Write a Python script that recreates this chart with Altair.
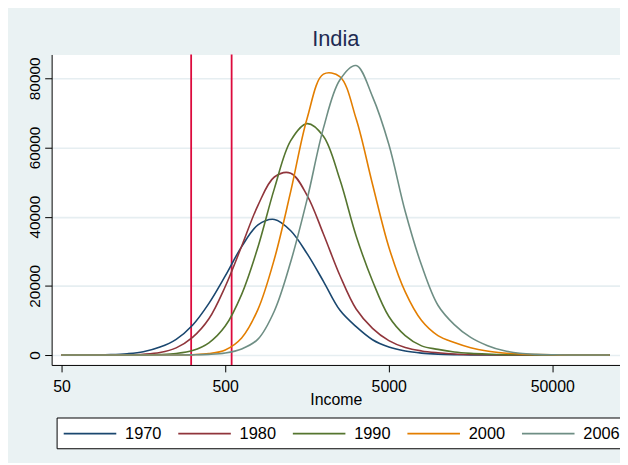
import altair as alt
import pandas as pd

# income grid (log-spaced) and density values
income = [50, 63, 79, 100, 126, 158, 200, 251, 316, 398, 501, 631, 794, 1000,
          1259, 1585, 1995, 2512, 3162, 3981, 5012, 6310, 7943, 10000, 12589,
          15849, 19953, 25119, 31623, 39811, 50119, 63096, 79433, 100000, 112202]

y1970 = [5, 11, 40, 120, 370, 930, 2290, 4540, 8620, 14940,
         22870, 31330, 37600, 39200, 35930, 29300, 21310, 13000, 8190, 4420,
         2330, 1160, 550, 250, 110, 48, 20, 8, 3, 1, 0, 0, 0, 0, 0]
y1980 = [0, 1, 4, 15, 66, 230, 720, 2060, 5090, 10470,
         19810, 31450, 43290, 51470, 52590, 46190, 35000, 23060, 13290, 7720,
         4170, 2170, 1180, 650, 290, 130, 55, 22, 9, 3, 0, 0, 0, 0, 0]
y1990 = [0, 0, 1, 4, 12, 38, 136, 440, 1290, 3540,
         8370, 17550, 31220, 48110, 61970, 66900, 63240, 50790, 34440, 21420,
         11150, 5630, 2640, 1630, 870, 470, 250, 120, 55, 25, 10, 4, 1, 0, 0]
y2000 = [0, 0, 0, 0, 0, 1, 4, 19, 96, 410,
         1470, 4930, 13200, 27760, 47300, 68400, 81200, 80500, 68290, 49380,
         31180, 18240, 9950, 5600, 3600, 2100, 1150, 600, 290, 130, 55, 22, 8, 3, 0]
y2006 = [0, 0, 0, 0, 0, 0, 2, 10, 49, 180,
         590, 1760, 4600, 12740, 26960, 45000, 65600, 79520, 83700, 74720,
         60870, 41500, 25950, 14400, 8800, 5080, 2780, 1290, 500, 175, 55, 16, 4, 1, 0]

years = ["1970", "1980", "1990", "2000", "2006"]
colors = ["#1A476F", "#90353B", "#55752F", "#E37E00", "#6E8E84"]
poverty_lines = [310, 548]

series = dict(zip(years, [y1970, y1980, y1990, y2000, y2006]))
rows = []
for yr, vals in series.items():
    for inc, v in zip(income, vals):
        rows.append({"income": inc, "density": v, "year": yr})
df = pd.DataFrame(rows)
lines_df = pd.DataFrame({"income": poverty_lines})

FONT = "Liberation Sans"

x_scale = alt.Scale(type="log", domain=[43.5, 129700], nice=False)

curves = (
    alt.Chart(df)
    .mark_line(strokeWidth=1.6, interpolate="catmull-rom")
    .encode(
        x=alt.X(
            "income:Q",
            scale=x_scale,
            axis=alt.Axis(
                title="Income", values=[50, 500, 5000, 50000], format="d",
                grid=False, tickSize=7, labelPadding=7, labelFontSize=16,
                titleFontSize=16, titleFontWeight="normal", titleY=40,
                titleBaseline="alphabetic",
            ),
        ),
        y=alt.Y(
            "density:Q",
            scale=alt.Scale(domain=[-2870, 86900], nice=False, zero=False),
            axis=alt.Axis(
                title=None, values=[0, 20000, 40000, 60000, 80000], format="d",
                grid=True, gridColor="#E6EEF1", gridWidth=1.6,
                tickSize=7, labelPadding=5, labelAngle=-90, labelAlign="center",
                labelBaseline="alphabetic", labelFontSize=15.5,
            ),
        ),
        color=alt.Color(
            "year:N",
            scale=alt.Scale(domain=years, range=colors),
            legend=alt.Legend(
                title=None, orient="none", legendX=5, legendY=366,
                direction="horizontal", symbolType="M-1,0H5", symbolSize=312,
                symbolStrokeWidth=1.6, labelFontSize=16.5, labelOffset=43,
                columnPadding=12.5, padding=6, fillColor="white",
                strokeColor="black", labelColor="black",
            ),
        ),
    )
)

rules = (
    alt.Chart(lines_df)
    .mark_rule(color="#DC0A3C", strokeWidth=1.8)
    .encode(x=alt.X("income:Q", scale=x_scale))
)

chart = (
    alt.layer(rules, curves)
    .properties(
        width=573,
        height=313,
        autosize=alt.AutoSizeParams(type="none"),
        padding={"left": 44, "top": 45, "right": 0, "bottom": 97},
        title=alt.TitleParams(
            "India", fontSize=22, font=FONT, fontWeight="normal",
            color="#1E2B52", anchor="middle", baseline="alphabetic",
            offset=7, dy=21,
        ),
    )
    .configure(background="#EAF2F3", font=FONT)
    .configure_view(fill="white", stroke="transparent")
    .configure_axis(
        domainColor="black", tickColor="black", labelColor="black",
        titleColor="black", labelFont=FONT, titleFont=FONT,
    )
    .configure_legend(labelFont=FONT)
)

chart.save("out.html", embed_options={"renderer": "svg", "actions": False})
